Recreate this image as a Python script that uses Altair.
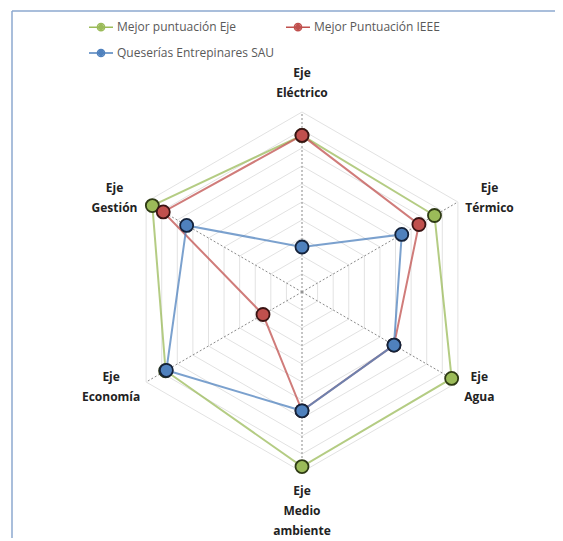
import math
import altair as alt
import pandas as pd

# ---------------- data ----------------
axis_labels = ["Eje\nEléctrico", "Eje\nTérmico", "Eje\nAgua",
               "Eje\nMedio\nambiente", "Eje\nEconomía", "Eje\nGestión"]
series_names = ["Mejor puntuación Eje", "Mejor Puntuación IEEE",
                "Queserías Entrepinares SAU"]
mejor_eje = [8.7, 8.5, 9.6, 9.7, 8.75, 9.6]
mejor_ieee = [8.7, 7.5, 5.9, 6.6, 2.5, 8.9]
queserias = [2.5, 6.4, 5.9, 6.6, 8.7, 7.4]
grid_levels = [1, 2, 3, 4, 5, 6, 7, 8, 9, 10]

series_values = [mejor_eje, mejor_ieee, queserias]
series_colors = ["#9bbb59", "#c0504d", "#4f81bd"]
series_dark = ["#2e3a14", "#3a1413", "#14223a"]

# ---------------- geometry / layout ----------------
W, H = 547, 530
PX = 18.0                      # pixels per unit
CX, CY = 294, 284              # centre inside chart area
xdom = [-CX / PX, (W - CX) / PX]
ydom = [-(H - CY) / PX, CY / PX]
n = len(axis_labels)


def ang(i):
    return 2 * math.pi * i / n


# series rows
line_rows, pt_rows = [], []
for s, name in enumerate(series_names):
    vals = series_values[s]
    for k in range(n + 1):
        i = k % n
        r = vals[i]
        row = dict(series=name, order=k, x=r * math.sin(ang(i)), y=r * math.cos(ang(i)))
        line_rows.append(row)
        if k < n:
            pt_rows.append(dict(row, sidx=s))
lines_df = pd.DataFrame(line_rows)
pts_df = pd.DataFrame(pt_rows)

# grid rings
ring_rows = []
for lv in grid_levels:
    for k in range(n + 1):
        i = k % n
        ring_rows.append(dict(ring=lv, order=k, x=lv * math.sin(ang(i)), y=lv * math.cos(ang(i))))
rings_df = pd.DataFrame(ring_rows)

rmax = max(grid_levels)
spokes_df = pd.DataFrame([dict(x=0.0, y=0.0, x2=rmax * math.sin(ang(i)), y2=rmax * math.cos(ang(i)))
                          for i in range(n)])

# axis labels (one row per text line)
LR = 10.5
LH = 20.0
lab_rows = []
for i, lab in enumerate(axis_labels):
    parts = lab.split("\n")
    m = len(parts)
    sx, sy = math.sin(ang(i)), math.cos(ang(i))
    bx, by = LR * sx, LR * sy
    half = max(len(p) for p in parts) * 3.4 / PX
    for j, p in enumerate(parts):
        if abs(sx) < 1e-6 and sy > 0:          # top
            x = bx
            y = by + ((m - 1 - j) * LH + LH / 2) / PX
        elif abs(sx) < 1e-6:                   # bottom
            x = bx
            y = by - (j * LH + LH / 2) / PX
        else:
            x = bx + (half if sx > 0 else -half)
            y = by - (j - (m - 1) / 2) * LH / PX
        lab_rows.append(dict(text=p, x=x, y=y))
labels_df = pd.DataFrame(lab_rows)

xenc = alt.X("x:Q", scale=alt.Scale(domain=xdom, nice=False, zero=False), axis=None)
yenc = alt.Y("y:Q", scale=alt.Scale(domain=ydom, nice=False, zero=False), axis=None)

rings = alt.Chart(rings_df).mark_line(color="#e2e2e2", strokeWidth=1).encode(
    x=xenc, y=yenc, detail="ring:N", order="order:Q")

spokes = alt.Chart(spokes_df).mark_rule(color="#8a8a8a", strokeWidth=1, strokeDash=[2, 2]).encode(
    x=xenc, y=yenc, x2="x2:Q", y2="y2:Q")

legend_symbol = ("M-1,0H1 "
                 "M0.3,0A0.3,0.3,0,1,1,-0.3,0A0.3,0.3,0,1,1,0.3,0 "
                 "M0.18,0A0.18,0.18,0,1,1,-0.18,0A0.18,0.18,0,1,1,0.18,0 "
                 "M0.06,0A0.06,0.06,0,1,1,-0.06,0A0.06,0.06,0,1,1,0.06,0")

lines = alt.Chart(lines_df).mark_line(strokeWidth=2, opacity=0.75).encode(
    x=xenc, y=yenc, order="order:Q",
    color=alt.Color("series:N",
                    scale=alt.Scale(domain=series_names, range=series_colors),
                    legend=alt.Legend(
                        title=None, orient="none", legendX=80, legendY=6,
                        direction="horizontal", columns=2, columnPadding=8,
                        rowPadding=6, padding=0, labelLimit=400,
                        symbolType=legend_symbol, symbolSize=576,
                        symbolStrokeWidth=1.5, symbolOpacity=1,
                        labelFont="Open Sans", labelFontSize=12,
                        labelColor="#595959", labelOffset=3)))

points = alt.Chart(pts_df).mark_point(filled=True, size=170, strokeWidth=1.8, opacity=1).encode(
    x=xenc, y=yenc, order="sidx:Q",
    fill=alt.Fill("series:N", scale=alt.Scale(domain=series_names, range=series_colors), legend=None),
    stroke=alt.Stroke("series:N", scale=alt.Scale(domain=series_names, range=series_dark), legend=None))

labels = alt.Chart(labels_df).mark_text(font="Open Sans", fontSize=12, fontWeight="bold",
                                        color="#222222", align="center", baseline="middle").encode(
    x=xenc, y=yenc, text="text:N")

one = pd.DataFrame({"a": [0]})
frame_top = alt.Chart(one).mark_rule(color="#8da9cf", strokeWidth=1.5).encode(
    x=alt.value(4), x2=alt.value(W), y=alt.value(3))
frame_left = alt.Chart(one).mark_rule(color="#8da9cf", strokeWidth=1.5).encode(
    x=alt.value(4), y=alt.value(3), y2=alt.value(H))

chart = alt.layer(frame_top, frame_left, rings, spokes, lines, points, labels).properties(
    width=W, height=H, padding=0,
    autosize=alt.AutoSizeParams(type="none")
).configure_view(stroke=None).resolve_scale(color="independent")

chart.save("out.html", embed_options={"renderer": "svg", "actions": False})
